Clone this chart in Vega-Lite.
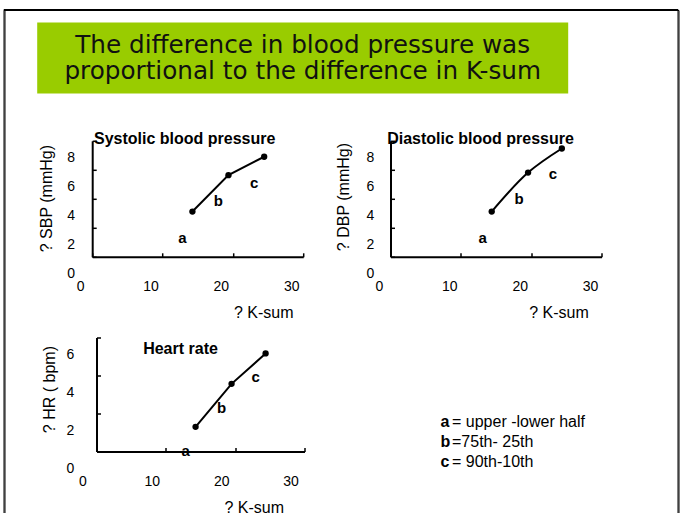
{
  "$schema": "https://vega.github.io/schema/vega-lite/v6.json",
  "padding": {"left": 2.5, "top": 8, "right": 0, "bottom": 0},
  "bounds": "flush",
  "spacing": 0,
  "datasets": {
    "headline": [{"t": "The difference in blood pressure was\nproportional to the difference in K-sum"}],
    "sbp": [
      {"ksum": 14.25, "value": 3.12, "label": "a"},
      {"ksum": 19.37, "value": 5.63, "label": "b"},
      {"ksum": 24.45, "value": 6.9, "label": "c"}
    ],
    "dbp": [
      {"ksum": 14.39, "value": 3.12, "label": "a"},
      {"ksum": 19.56, "value": 5.81, "label": "b"},
      {"ksum": 24.36, "value": 7.47, "label": "c"}
    ],
    "hr": [
      {"ksum": 14.29, "value": 1.3, "label": "a"},
      {"ksum": 19.48, "value": 3.56, "label": "b"},
      {"ksum": 24.39, "value": 5.16, "label": "c"}
    ],
    "legend": [
      {"k": "a", "d": "= upper -lower half"},
      {"k": "b", "d": "=75th- 25th"},
      {"k": "c", "d": "= 90th-10th"}
    ],
    "empty": []
  },
  "vconcat": [
    {"width": 674, "height": 1, "data": {"name": "empty"}, "mark": "point", "view": {"stroke": "black", "strokeWidth": 1}},
    {
      "bounds": "flush",
      "spacing": 32.7,
      "hconcat": [
        {"width": 1, "height": 510, "data": {"name": "empty"}, "mark": "point", "view": {"stroke": "black", "strokeWidth": 1}},
        {
          "bounds": "flush",
          "spacing": 640.3,
          "hconcat": [
            {
              "bounds": "flush",
              "spacing": 11.5,
              "vconcat": [
                {"width": 1, "height": 1, "data": {"name": "empty"}, "mark": "point"},
                {
                  "bounds": "flush",
                  "spacing": 47.3,
                  "vconcat": [
                    {
                      "width": 531,
                      "height": 71,
                      "view": {"fill": "#99CC00", "stroke": null},
                      "data": {"name": "headline"},
                      "mark": {"type": "text", "font": "DejaVu Sans", "fontSize": 24.7, "lineHeight": 26, "lineBreak": "\n", "baseline": "middle", "align": "center", "dy": -12.5, "color": "#111111"},
                      "encoding": {"text": {"field": "t", "type": "nominal"}}
                    },
                    {
                      "bounds": "flush",
                      "spacing": 196.7,
                      "vconcat": [
                        {
                          "bounds": "flush",
                          "spacing": 54,
                          "hconcat": [
                            {"width": 1, "height": 1, "data": {"name": "empty"}, "mark": "point"},
                            {
                              "bounds": "flush",
                              "spacing": 87.3,
                              "hconcat": [
                                {
                                  "width": 211,
                                  "height": 116,
                                  "title": {"text": "Systolic blood pressure", "dx": -13, "offset": -6.8},
                                  "data": {"name": "sbp"},
                                  "encoding": {
                                    "x": {"field": "ksum", "type": "quantitative", "scale": {"domain": [0, 30], "nice": false},
                                      "axis": {"title": "? K-sum", "values": [0, 10, 20, 30], "labelOffset": -12, "labelPadding": 34, "titleX": 171, "titleY": 56}},
                                    "y": {"field": "value", "type": "quantitative", "scale": {"domain": [0, 8], "nice": false},
                                      "axis": {"title": "? SBP (mmHg)", "values": [0, 2, 4, 6, 8], "labelOffset": 17, "labelPadding": 21.7, "titleX": -46, "titleY": 57.3}}
                                  },
                                  "layer": [
                                    {"mark": {"type": "line", "color": "black", "strokeWidth": 2}},
                                    {"mark": {"type": "point", "filled": true, "color": "black", "size": 40, "opacity": 1}},
                                    {"mark": {"type": "text", "fontWeight": "bold", "fontSize": 15, "dx": -10, "dy": 26, "color": "black", "baseline": "middle"}, "encoding": {"text": {"field": "label", "type": "nominal"}}}
                                  ]
                                },
                                {
                                  "width": 211,
                                  "height": 116,
                                  "title": {"text": "Diastolic blood pressure", "dx": -15.5, "offset": -6.8},
                                  "data": {"name": "dbp"},
                                  "encoding": {
                                    "x": {"field": "ksum", "type": "quantitative", "scale": {"domain": [0, 30], "nice": false},
                                      "axis": {"title": "? K-sum", "values": [0, 10, 20, 30], "labelOffset": -11.5, "labelPadding": 33.7, "titleX": 168, "titleY": 56}},
                                    "y": {"field": "value", "type": "quantitative", "scale": {"domain": [0, 8], "nice": false},
                                      "axis": {"title": "? DBP (mmHg)", "values": [0, 2, 4, 6, 8], "labelOffset": 17, "labelPadding": 20.7, "titleX": -47.3, "titleY": 55.8}}
                                  },
                                  "layer": [
                                    {"mark": {"type": "line", "color": "black", "strokeWidth": 2, "interpolate": "catmull-rom"}},
                                    {"mark": {"type": "point", "filled": true, "color": "black", "size": 40, "opacity": 1}},
                                    {"mark": {"type": "text", "fontWeight": "bold", "fontSize": 15, "dx": -9, "dy": 26, "color": "black", "baseline": "middle"}, "encoding": {"text": {"field": "label", "type": "nominal"}}}
                                  ]
                                }
                              ]
                            }
                          ]
                        },
                        {
                          "bounds": "flush",
                          "spacing": 58.3,
                          "hconcat": [
                            {"width": 1, "height": 1, "data": {"name": "empty"}, "mark": "point"},
                            {
                              "bounds": "flush",
                              "spacing": 135,
                              "hconcat": [
                                {
                                  "width": 208,
                                  "height": 114,
                                  "title": {"text": "Heart rate", "dx": -20, "offset": -20},
                                  "data": {"name": "hr"},
                                  "encoding": {
                                    "x": {"field": "ksum", "type": "quantitative", "scale": {"domain": [0, 30], "nice": false},
                                      "axis": {"title": "? K-sum", "values": [0, 10, 20, 30], "labelOffset": -14, "labelPadding": 34, "titleX": 157.3, "titleY": 56}},
                                    "y": {"field": "value", "type": "quantitative", "scale": {"domain": [0, 6], "nice": false},
                                      "axis": {"title": "? HR ( bpm)", "values": [0, 2, 4, 6], "labelOffset": 17, "labelPadding": 26.7, "titleX": -47, "titleY": 51.6}}
                                  },
                                  "layer": [
                                    {"mark": {"type": "line", "color": "black", "strokeWidth": 2}},
                                    {"mark": {"type": "point", "filled": true, "color": "black", "size": 40, "opacity": 1}},
                                    {"mark": {"type": "text", "fontWeight": "bold", "fontSize": 15, "dx": -10, "dy": 24, "color": "black", "baseline": "middle"}, "encoding": {"text": {"field": "label", "type": "nominal"}}}
                                  ]
                                },
                                {
                                  "width": 2,
                                  "height": 114,
                                  "data": {"name": "legend"},
                                  "encoding": {
                                    "y": {"field": "k", "type": "nominal", "scale": {"type": "point", "range": [84.3, 124.3], "padding": 0}, "axis": null}
                                  },
                                  "layer": [
                                    {"mark": {"type": "text", "align": "left", "baseline": "middle", "fontWeight": "bold", "fontSize": 16, "color": "black"}, "encoding": {"text": {"field": "k", "type": "nominal"}}},
                                    {"mark": {"type": "text", "align": "left", "baseline": "middle", "fontSize": 16, "dx": 11.5, "color": "black"}, "encoding": {"text": {"field": "d", "type": "nominal"}}}
                                  ]
                                }
                              ]
                            }
                          ]
                        }
                      ]
                    }
                  ]
                }
              ]
            },
            {"width": 1, "height": 510, "data": {"name": "empty"}, "mark": "point", "view": {"stroke": "black", "strokeWidth": 1}}
          ]
        }
      ]
    }
  ],
  "config": {
    "font": "Liberation Sans",
    "background": "white",
    "view": {"stroke": null},
    "axis": {
      "grid": false,
      "domainColor": "black",
      "domainWidth": 2,
      "tickColor": "black",
      "tickWidth": 1.5,
      "tickSize": -4,
      "labelColor": "black",
      "labelFont": "Liberation Sans",
      "labelFontSize": 14,
      "labelFlush": false,
      "labelOverlap": false,
      "labelBaseline": "middle",
      "titleColor": "black",
      "titleFont": "Liberation Sans",
      "titleFontSize": 16,
      "titleFontWeight": "normal",
      "titleBaseline": "middle",
      "titleAlign": "center"
    },
    "title": {"font": "Liberation Sans", "fontSize": 16, "fontWeight": "bold", "color": "black", "anchor": "middle", "baseline": "middle", "frame": "group"},
    "text": {"font": "Liberation Sans"}
  }
}
